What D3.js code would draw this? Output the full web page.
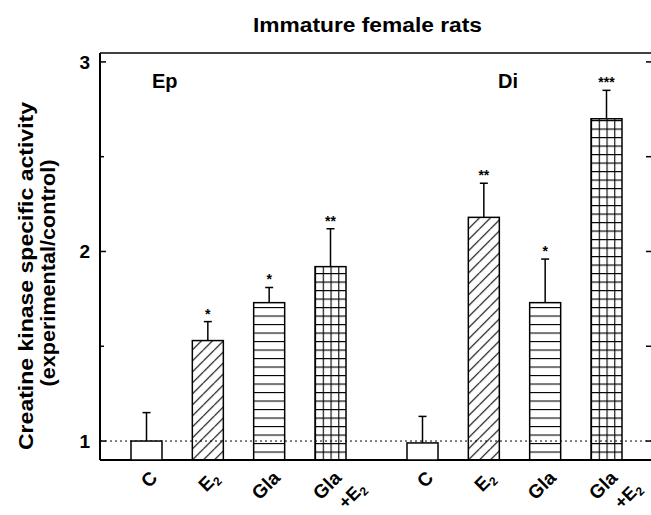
<!DOCTYPE html>
<html>
<head>
<meta charset="utf-8">
<script src="https://cdn.jsdelivr.net/npm/d3@7"></script>
<style>
  body { margin: 0; background: #fff; }
  text { font-family: "Liberation Sans", Arial, sans-serif; font-weight: bold; fill: #000; }
</style>
</head>
<body>
<script>
// values
let groups = ["Ep", "Di"];
let treatments = ["C", "E2", "Gla", "Gla+E2"];
let epValues = [1.0, 1.53, 1.73, 1.92];
let epErrors = [0.15, 0.10, 0.08, 0.20];
let diValues = [0.99, 2.18, 1.73, 2.70];
let diErrors = [0.14, 0.18, 0.23, 0.15];
let epStars = ["", "*", "*", "**"];
let diStars = ["", "**", "*", "***"];
let majorTicks = [1, 2, 3];
let minorTicks = [1.5, 2.5];

let width = 651, height = 515;
let plotLeft = 100, plotRight = 651, plotTop = 53, plotBottom = 460;

let bars = [];
groups.forEach(function(g, gi) {
  treatments.forEach(function(t, ti) {
    bars.push({
      group: g, treat: t, slot: gi * 4.5 + ti,
      value: gi === 0 ? epValues[ti] : diValues[ti],
      err: gi === 0 ? epErrors[ti] : diErrors[ti],
      stars: gi === 0 ? epStars[ti] : diStars[ti]
    });
  });
});

let svg = d3.select("body").append("svg").attr("width", width).attr("height", height);

let y = d3.scaleLinear().domain([0.9, 3.047]).range([plotBottom, plotTop]);
let x = d3.scaleLinear().domain([0, 7.5]).range([146.5, 606.5]);
let barW = 31;

// patterns
let defs = svg.append("defs");
bars.forEach(function(d, i) {
  let bx = x(d.slot) - barW / 2;
  if (d.treat === "E2") {
    let p = defs.append("pattern").attr("id", "pat" + i).attr("patternUnits", "userSpaceOnUse")
      .attr("x", bx).attr("y", plotBottom).attr("width", 11).attr("height", 11);
    p.append("path").attr("d", "M0,11 L11,0 M-11,11 L0,0 M11,11 L22,0")
      .attr("stroke", "#000").attr("stroke-width", 1.1);
  } else if (d.treat === "Gla") {
    let p = defs.append("pattern").attr("id", "pat" + i).attr("patternUnits", "userSpaceOnUse")
      .attr("x", bx).attr("y", plotBottom).attr("width", barW).attr("height", 8.5);
    p.append("line").attr("x1", 0).attr("x2", barW).attr("y1", 0.5).attr("y2", 0.5)
      .attr("stroke", "#000").attr("stroke-width", 1.2);
  } else if (d.treat === "Gla+E2") {
    let p = defs.append("pattern").attr("id", "pat" + i).attr("patternUnits", "userSpaceOnUse")
      .attr("x", bx).attr("y", plotBottom).attr("width", barW / 4).attr("height", 8.5);
    p.append("path").attr("d", "M0,0.5 H" + (barW / 4) + " M0.5,0 V8.5")
      .attr("stroke", "#000").attr("stroke-width", 1.2);
  }
});

// frame
svg.append("line").attr("x1", plotLeft).attr("x2", plotRight).attr("y1", plotTop).attr("y2", plotTop)
  .attr("stroke", "#000").attr("stroke-width", 1.5);
svg.append("line").attr("x1", plotLeft).attr("x2", plotRight).attr("y1", plotBottom).attr("y2", plotBottom)
  .attr("stroke", "#000").attr("stroke-width", 2);
svg.append("line").attr("x1", plotLeft).attr("x2", plotLeft).attr("y1", plotTop).attr("y2", plotBottom)
  .attr("stroke", "#000").attr("stroke-width", 2);

// ticks
svg.selectAll("line.major").data(majorTicks).enter().append("line").attr("class", "major")
  .attr("x1", plotLeft).attr("x2", plotLeft + 6).attr("y1", d => y(d)).attr("y2", d => y(d))
  .attr("stroke", "#000").attr("stroke-width", 1.5);
svg.selectAll("line.minor").data(minorTicks).enter().append("line").attr("class", "minor")
  .attr("x1", plotLeft).attr("x2", plotLeft + 4).attr("y1", d => y(d)).attr("y2", d => y(d))
  .attr("stroke", "#000").attr("stroke-width", 1.5);
svg.selectAll("line.rtick").data(majorTicks.concat(minorTicks)).enter().append("line").attr("class", "rtick")
  .attr("x1", plotRight - 5).attr("x2", plotRight).attr("y1", d => y(d)).attr("y2", d => y(d))
  .attr("stroke", "#000").attr("stroke-width", 1.5);
svg.selectAll("text.tick").data(majorTicks).enter().append("text").attr("class", "tick")
  .attr("x", plotLeft - 10).attr("y", d => y(d) + 7).attr("text-anchor", "end")
  .attr("font-size", 19).text(d => d);

// reference line at 1
svg.append("line").attr("x1", plotLeft).attr("x2", plotRight).attr("y1", y(1)).attr("y2", y(1))
  .attr("stroke", "#000").attr("stroke-width", 1).attr("stroke-dasharray", "2,3");

// bars
svg.selectAll("rect.bar").data(bars).enter().append("rect").attr("class", "bar")
  .attr("x", d => x(d.slot) - barW / 2).attr("width", barW)
  .attr("y", d => y(d.value)).attr("height", d => plotBottom - y(d.value))
  .attr("fill", function(d, i) { return d.treat === "C" ? "#fff" : "url(#pat" + i + ")"; })
  .attr("stroke", "#000").attr("stroke-width", 1.5);

// error bars
svg.selectAll("line.err").data(bars).enter().append("line").attr("class", "err")
  .attr("x1", d => x(d.slot)).attr("x2", d => x(d.slot))
  .attr("y1", d => y(d.value)).attr("y2", d => y(d.value + d.err))
  .attr("stroke", "#000").attr("stroke-width", 1.5);
svg.selectAll("line.cap").data(bars).enter().append("line").attr("class", "cap")
  .attr("x1", d => x(d.slot) - 4).attr("x2", d => x(d.slot) + 4)
  .attr("y1", d => y(d.value + d.err)).attr("y2", d => y(d.value + d.err))
  .attr("stroke", "#000").attr("stroke-width", 1.5);
svg.selectAll("text.star").data(bars).enter().append("text").attr("class", "star")
  .attr("x", d => x(d.slot)).attr("y", d => y(d.value + d.err) - 3)
  .attr("text-anchor", "middle").attr("font-size", 14).attr("font-weight", "normal")
  .text(d => d.stars);

// category labels, slanted
function slanted(px, py, size) {
  return svg.append("text").attr("transform", "translate(" + px + "," + py + ") rotate(-45)")
    .attr("text-anchor", "end").attr("font-size", size);
}
bars.forEach(function(d) {
  let cx = x(d.slot);
  let t = slanted(cx + 12, 479, 19);
  if (d.treat === "C") {
    t.text("C");
  } else if (d.treat === "E2") {
    t.append("tspan").text("E");
    t.append("tspan").attr("font-size", 12).attr("dy", 4).text("2");
  } else if (d.treat === "Gla") {
    t.text("Gla");
  } else {
    t.text("Gla");
    let t2 = slanted(cx + 36, 489, 18);
    t2.append("tspan").text("+E");
    t2.append("tspan").attr("font-size", 12).attr("dy", 4).text("2");
  }
});

// group labels
svg.selectAll("text.group").data(groups).enter().append("text").attr("class", "group")
  .attr("x", (d, i) => i === 0 ? 152 : 498).attr("y", 88).attr("font-size", 20).text(d => d);

// title and y label
svg.append("text").attr("x", 367.5).attr("y", 32).attr("text-anchor", "middle")
  .attr("font-size", 20).attr("textLength", 229).attr("lengthAdjust", "spacingAndGlyphs")
  .text("Immature female rats");
svg.append("text").attr("transform", "translate(33,276) rotate(-90)").attr("text-anchor", "middle")
  .attr("font-size", 20).attr("textLength", 348).attr("lengthAdjust", "spacingAndGlyphs")
  .text("Creatine kinase specific activity");
svg.append("text").attr("transform", "translate(55,273) rotate(-90)").attr("text-anchor", "middle")
  .attr("font-size", 20).attr("textLength", 227).attr("lengthAdjust", "spacingAndGlyphs")
  .text("(experimental/control)");
</script>
</body>
</html>
